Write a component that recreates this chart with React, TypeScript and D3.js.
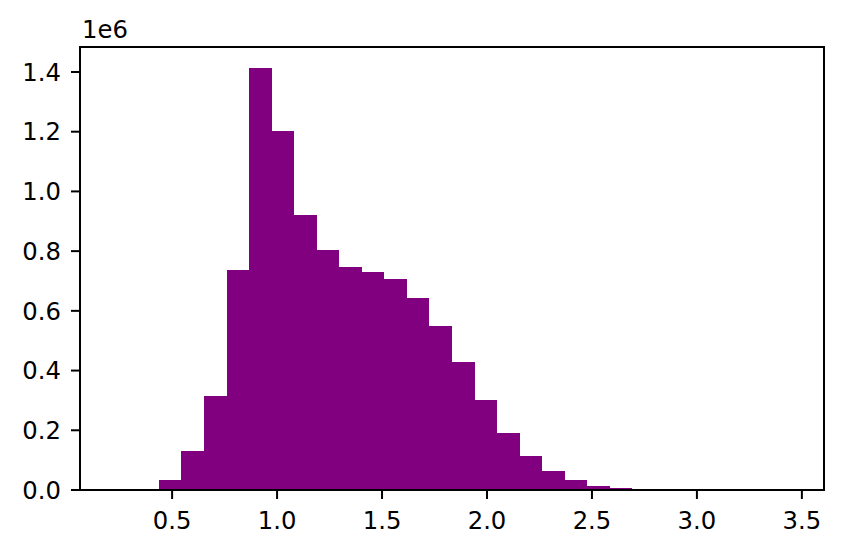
import React from "react";
import * as d3 from "d3";

const binStart = 0.2223;
const binWidth = 0.1074;
const counts = [
  2, 600, 32500, 130500, 315000, 737000, 1413000, 1203000, 921000, 804000,
  747000, 730000, 707000, 643000, 549000, 429000, 301500, 191000, 114000, 63600,
  33500, 12500, 5500, 1200, 400, 120, 35, 10, 3, 1,
];
const xTicks = [0.5, 1.0, 1.5, 2.0, 2.5, 3.0, 3.5];
const yTicks = [0, 0.2e6, 0.4e6, 0.6e6, 0.8e6, 1.0e6, 1.2e6, 1.4e6];
const yExponentLabel = "1e6";

const W = 843;
const H = 554;
const L = 80;
const R = 824;
const T = 47;
const B = 490;
const FONT = "DejaVu Sans";
const FS = 24.3;

export default function App() {
  const nb = counts.length;
  const xmin = binStart;
  const xmax = binStart + nb * binWidth;
  const xm = (xmax - xmin) * 0.05;
  const x = d3.scaleLinear().domain([xmin - xm, xmax + xm]).range([L, R]);
  const ymax = d3.max(counts) as number;
  const y = d3.scaleLinear().domain([0, ymax * 1.05]).range([B, T]);
  const bins = counts.map((c, i) => ({
    x0: binStart + i * binWidth,
    x1: binStart + (i + 1) * binWidth,
    c,
  }));
  return (
    <svg
      width={W}
      height={H}
      style={{ position: "absolute", left: 0, top: 0, background: "#fff" }}
      fontFamily={FONT}
    >
      <rect x={0} y={0} width={W} height={H} fill="#fff" />
      {bins.map((b, i) => (
        <rect
          key={i}
          x={x(b.x0)}
          y={y(b.c)}
          width={x(b.x1) - x(b.x0)}
          height={B - y(b.c)}
          fill="#800080"
          shapeRendering="crispEdges"
        />
      ))}
      <rect x={L} y={T} width={R - L} height={B - T} fill="none" stroke="#000" strokeWidth={2} />
      {xTicks.map((t) => (
        <g key={"x" + t}>
          <line x1={x(t)} x2={x(t)} y1={B} y2={B + 9} stroke="#000" strokeWidth={2} />
          <text x={x(t)} y={529} textAnchor="middle" fontSize={FS} fill="#000">
            {d3.format(".1f")(t)}
          </text>
        </g>
      ))}
      {yTicks.map((t) => (
        <g key={"y" + t}>
          <line x1={L - 9} x2={L} y1={y(t)} y2={y(t)} stroke="#000" strokeWidth={2} />
          <text x={61} y={y(t)} dy="0.36em" textAnchor="end" fontSize={FS} fill="#000">
            {d3.format(".1f")(t / 1e6)}
          </text>
        </g>
      ))}
      <text x={L + 2} y={38} fontSize={FS} fill="#000">
        {yExponentLabel}
      </text>
    </svg>
  );
}
